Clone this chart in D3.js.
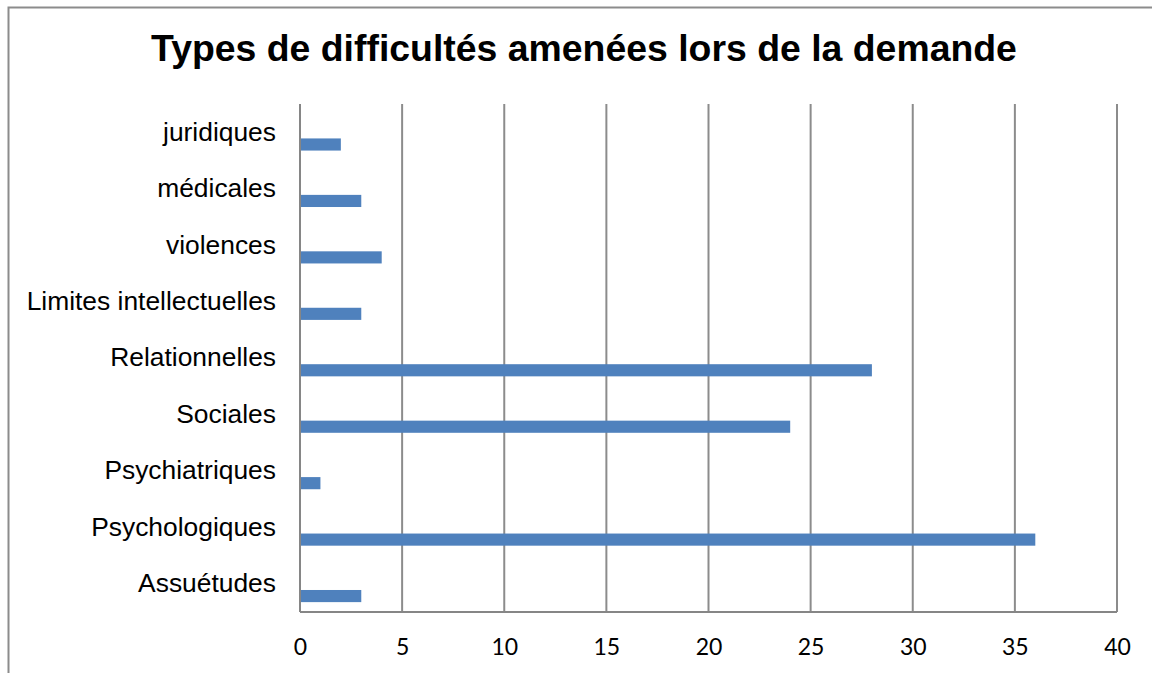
<!DOCTYPE html>
<html>
<head>
<meta charset="utf-8">
<script src="https://cdn.jsdelivr.net/npm/d3@7"></script>
<style>
  body { margin: 0; background: #fff; }
  svg { display: block; }
</style>
</head>
<body>
<div id="chart"></div>
<script>
// Data (top to bottom)
const categories = ["juridiques", "médicales", "violences", "Limites intellectuelles",
  "Relationnelles", "Sociales", "Psychiatriques", "Psychologiques", "Assuétudes"];
const values = [2, 3, 4, 3, 28, 24, 1, 36, 3];
const xTicks = [0, 5, 10, 15, 20, 25, 30, 35, 40];

const W = 1152, H = 673;
const margin = { top: 104, right: 35, bottom: 61, left: 300 };
const width = W - margin.left - margin.right;
const height = H - margin.top - margin.bottom;

const svg = d3.select("#chart").append("svg")
  .attr("width", W)
  .attr("height", H);

// outer chart border (right/bottom cut off in the original)
svg.append("rect")
  .attr("x", 8.5).attr("y", 7.5)
  .attr("width", W).attr("height", H)
  .attr("fill", "none")
  .attr("stroke", "#8c8c8c")
  .attr("stroke-width", 2);

// title
svg.append("text")
  .attr("x", 584).attr("y", 61)
  .attr("text-anchor", "middle")
  .style("font-family", "'Liberation Sans', Arial, sans-serif")
  .style("font-weight", "bold")
  .style("font-size", "37.4px")
  .text("Types de difficultés amenées lors de la demande");

const g = svg.append("g")
  .attr("transform", `translate(${margin.left},${margin.top})`);

const x = d3.scaleLinear().domain([0, 40]).range([0, width]);
const y = d3.scaleBand().domain(categories).range([0, height]);

// vertical gridlines
g.selectAll(".grid")
  .data(xTicks.slice(1))
  .join("line")
  .attr("class", "grid")
  .attr("x1", d => x(d)).attr("x2", d => x(d))
  .attr("y1", 0).attr("y2", height)
  .attr("stroke", "#8c8c8c")
  .attr("stroke-width", 2);

// bars
g.selectAll(".bar")
  .data(values)
  .join("rect")
  .attr("class", "bar")
  .attr("x", x(0))
  .attr("y", (d, i) => y(categories[i]) + y.bandwidth() * 0.61)
  .attr("width", d => x(d) - x(0))
  .attr("height", y.bandwidth() * 0.215)
  .attr("fill", "#4f81bd");

// axes lines
g.append("line")
  .attr("x1", 0).attr("x2", 0).attr("y1", 0).attr("y2", height)
  .attr("stroke", "#868686").attr("stroke-width", 2);
g.append("line")
  .attr("x1", 0).attr("x2", width).attr("y1", height).attr("y2", height)
  .attr("stroke", "#868686").attr("stroke-width", 2);

// x axis labels
const xAxis = g.append("g")
  .attr("transform", `translate(0,${height})`)
  .call(d3.axisBottom(x).tickValues(xTicks).tickSize(0));
xAxis.select(".domain").remove();
xAxis.selectAll("text")
  .attr("y", 43)
  .attr("dy", 0)
  .style("font-family", "Lato, 'Open Sans', sans-serif")
  .style("font-size", "23px")
  .attr("fill", "#000");

// y axis labels
const yAxis = g.append("g")
  .call(d3.axisLeft(y).tickSize(0).tickPadding(24));
yAxis.select(".domain").remove();
yAxis.selectAll("text")
  .attr("dy", "0.32em")
  .style("font-family", "'Liberation Sans', Arial, sans-serif")
  .style("font-size", "26.4px")
  .attr("fill", "#000");
</script>
</body>
</html>
